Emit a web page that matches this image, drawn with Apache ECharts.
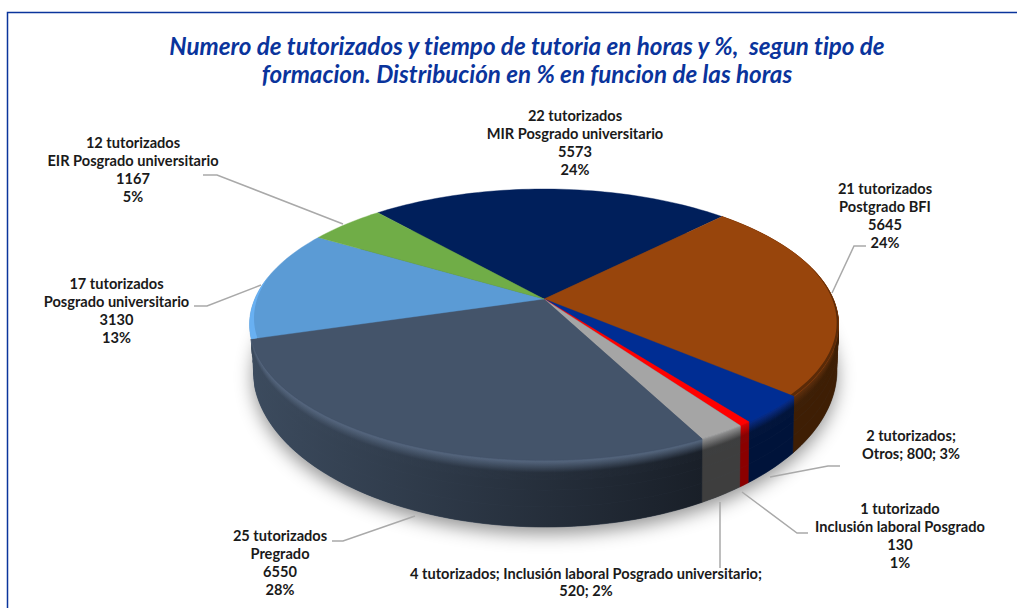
<!DOCTYPE html>
<html><head><meta charset="utf-8">
<style>html,body{margin:0;padding:0;background:#fff}#c{width:1017px;height:608px}#c text{font-variant-ligatures:none}</style>
<script src="https://cdn.jsdelivr.net/npm/echarts@6/dist/echarts.min.js"></script>
</head><body><div id="c"></div>
<script>
// ---- data ----
const names = ['MIR Posgrado universitario','Postgrado BFI','Otros','Inclusión laboral Posgrado','Inclusión laboral Posgrado universitario','Pregrado','Posgrado universitario','EIR Posgrado universitario'];
const tutorados = ['22 tutorizados','21 tutorizados','2 tutorizados','1 tutorizado','4 tutorizados','25 tutorizados','17 tutorizados','12 tutorizados'];
const hours = [5573,5645,800,130,520,6550,3130,1167];
const percents = [24,24,3,1,2,28,13,5];
const titleText = 'Numero de tutorizados y tiempo de tutoria en horas y %,  segun tipo de\nformacion. Distribución en % en funcion de las horas';

// ---- styles ----
const faceColors = ['#001f5b','#98450c','#002d93','#ff0000','#a5a5a5','#44546a','#5b9bd5','#70ad47'];
const highlightColors = ['#001f5b','#5c2c0a','#062a85','#d80000','#8e8e8e','#55667e','#6cb2f5','#70ad47'];
const wallLeft = [null,'#3e1e04','#001540','#8b0000','#444444','#3c4b5e',null,null];
const wallRight = [null,'#3e1e04','#00133a','#8b0000','#3e3e3e','#191f28',null,null];
const leaderColor = '#a9a9a9', textColor = '#1a1a1a', accent = '#0a349c';

// ---- layout ----
const view = {cx:544, apexY:299, topCy:324.5, topRx:294.5, topRy:135.5, baseCx:545, baseCy:370, baseRx:292, baseRy:157, startAngle:131};
const labelLayout = [
 {x:575,y:142.5,fmt:'lines',lead:[]},
 {x:885,y:215.5,fmt:'lines',lead:[[866,246],[854,246],[832,293]]},
 {x:911,y:444.5,fmt:'semi2',lead:[[840,466],[828,466],[770,477]]},
 {x:900,y:535.5,fmt:'lines',lead:[[808,533],[797,533],[742,492]]},
 {x:586,y:582,fmt:'semi1',lead:[[720,502],[720,568]]},
 {x:280,y:562.5,fmt:'lines',lead:[[332,541],[343,541],[415,516]]},
 {x:116.5,y:310.5,fmt:'lines',lead:[[194,306],[207,306],[261,285]]},
 {x:133,y:169.5,fmt:'lines',lead:[[203,175],[217,175],[343,224]]}
];
const rimAccents = {
  6:{span:28,width:0.02,color:'#68b0f2',fromStart:true},
  1:{span:60,width:0.012,color:'#5a2a08',fromStart:false}
};
const bandStops = [];
for(let f=0;f<0.3;f+=0.012) bandStops.push(f);
[0.3,0.45,0.7,1].forEach(f=>bandStops.push(f));

const total = hours.reduce((a,b)=>a+b,0);
const far = view.apexY-view.topCy+view.topRy, near = view.topCy+view.topRy-view.apexY;
const k = (near-far)/(near+far);
const S = far*(1+k);
const R = view.topRx*Math.sqrt(1-k*k);

function sliceAngles(i){
  let a = view.startAngle;
  for(let j=0;j<i;j++) a -= hours[j]/total*360;
  return [a, a-hours[i]/total*360];
}
function ringPoint(deg, r){
  const t = deg*Math.PI/180, u = r*Math.cos(t), v = r*Math.sin(t), w = 1+k*v;
  return [view.cx + R*u/w, view.apexY - S*v/w];
}
function rimParam(deg){
  const p = ringPoint(deg,1);
  const c = (p[0]-view.cx)/view.topRx, s = (p[1]-view.topCy)/view.topRy, n = Math.hypot(c,s);
  return [c/n, s/n];
}
function wallPoint(deg,f){
  const [c,s] = rimParam(deg);
  return [view.cx+(view.baseCx-view.cx)*f + (view.topRx+(view.baseRx-view.topRx)*f)*c,
          view.topCy+(view.baseCy-view.topCy)*f + (view.topRy+(view.baseRy-view.topRy)*f)*s];
}
function arcAngles(a0,a1){
  const n = Math.max(3,Math.ceil(Math.abs(a1-a0)/1.5)), out=[];
  for(let i=0;i<=n;i++) out.push(a0+(a1-a0)*i/n);
  return out;
}
function hex(c){return [1,3,5].map(i=>parseInt(c.substr(i,2),16));}
function mix(a,b,t){const A=hex(a),B=hex(b);return 'rgb('+A.map((v,i)=>Math.round(v+(B[i]-v)*t)).join(',')+')';}
function bandColor(i,f){
  const face=faceColors[i], hi=highlightColors[i];
  const x0=view.cx-view.topRx, x1=view.cx+view.topRx;
  if(f<0.025) return mix(face,hi,f/0.025);
  const t=Math.min(1,(f-0.025)/0.17);
  return new echarts.graphic.LinearGradient(x0,0,x1,0,[
    {offset:0,color:mix(hi,wallLeft[i],t)},
    {offset:0.77,color:mix(hi,wallRight[i],t)},
    {offset:1,color:mix(hi,wallRight[i],t)}],true);
}
function renderWalls(params,api){
  const i = api.value(0), children=[];
  if(i===0){
    const base=[]; for(let d=0;d<360;d+=2) base.push(wallPoint(d,1));
    children.push({type:'polygon',shape:{points:base},style:{fill:'#3c4b5e',shadowBlur:18,shadowColor:'rgba(0,0,0,0.42)',shadowOffsetY:7}});
  }
  if(wallLeft[i]){
    const [a0,a1] = sliceAngles(i), ang = arcAngles(a0,a1);
    for(let b=0;b<bandStops.length-1;b++){
      const f0=bandStops[b], f1=bandStops[b+1], pts=[];
      ang.forEach(d=>pts.push(wallPoint(d,f0)));
      ang.slice().reverse().forEach(d=>pts.push(wallPoint(d,f1)));
      const col=bandColor(i,(f0+f1)/2);
      children.push({type:'polygon',shape:{points:pts},style:{fill:col,stroke:col,lineWidth:0.6}});
    }
  }
  return {type:'group',children};
}
function renderFaces(params,api){
  const i = api.value(0), [a0,a1] = sliceAngles(i), ang = arcAngles(a0,a1);
  const pts=[[view.cx,view.apexY]]; ang.forEach(d=>pts.push(ringPoint(d,1)));
  const children=[{type:'polygon',shape:{points:pts},style:{fill:faceColors[i],stroke:faceColors[i],lineWidth:0.4}}];
  const acc=rimAccents[i];
  if(acc){
    const s0 = acc.fromStart ? a0 : a1, s1 = acc.fromStart ? a0-acc.span : a1+acc.span;
    const arc = arcAngles(s0,s1), p=[];
    arc.forEach(d=>p.push(ringPoint(d,1)));
    arc.slice().reverse().forEach(d=>{
      const q=Math.abs(d-s0)/acc.span;
      p.push(ringPoint(d,1-acc.width*(1-q)));
    });
    children.push({type:'polygon',shape:{points:p},style:{fill:acc.color}});
  }
  return {type:'group',children};
}
function labelText(i){
  const f=labelLayout[i].fmt;
  if(f==='semi1') return tutorados[i]+'; '+names[i]+';\n'+hours[i]+'; '+percents[i]+'%';
  if(f==='semi2') return tutorados[i]+';\n'+names[i]+'; '+hours[i]+'; '+percents[i]+'%';
  return tutorados[i]+'\n'+names[i]+'\n'+hours[i]+'\n'+percents[i]+'%';
}
function renderLabels(params,api){
  const i=api.value(0), l=labelLayout[i], children=[];
  if(l.lead.length) children.push({type:'polyline',shape:{points:l.lead},style:{fill:null,stroke:leaderColor,lineWidth:1.5}});
  children.push({type:'text',x:l.x,y:l.y,style:{text:labelText(i),textAlign:'center',textVerticalAlign:'middle',fill:textColor,font:'bold 14.6px Lato',lineHeight:17.7}});
  return {type:'group',children};
}
const rows = hours.map((h,i)=>[i,h]);
const chart = echarts.init(document.getElementById('c'),null,{renderer:'svg'});
chart.setOption({
  animation:false,
  backgroundColor:'#fff',
  title:{text:titleText,left:522,top:26,textAlign:'center',textStyle:{fontFamily:'Lato',fontStyle:'italic',fontWeight:'bold',fontSize:24.2,lineHeight:28.5,color:accent}},
  graphic:[{type:'polyline',shape:{points:[[7.5,608],[7.5,12.5],[1017,12.5]]},style:{fill:null,stroke:accent,lineWidth:1.5}}],
  series:[
    {type:'custom',name:'walls',coordinateSystem:'none',z:1,silent:true,data:rows,renderItem:renderWalls},
    {type:'custom',name:'faces',coordinateSystem:'none',z:2,silent:true,data:rows,renderItem:renderFaces},
    {type:'custom',name:'labels',coordinateSystem:'none',z:3,silent:true,data:rows,renderItem:renderLabels}
  ]
});
</script></body></html>
